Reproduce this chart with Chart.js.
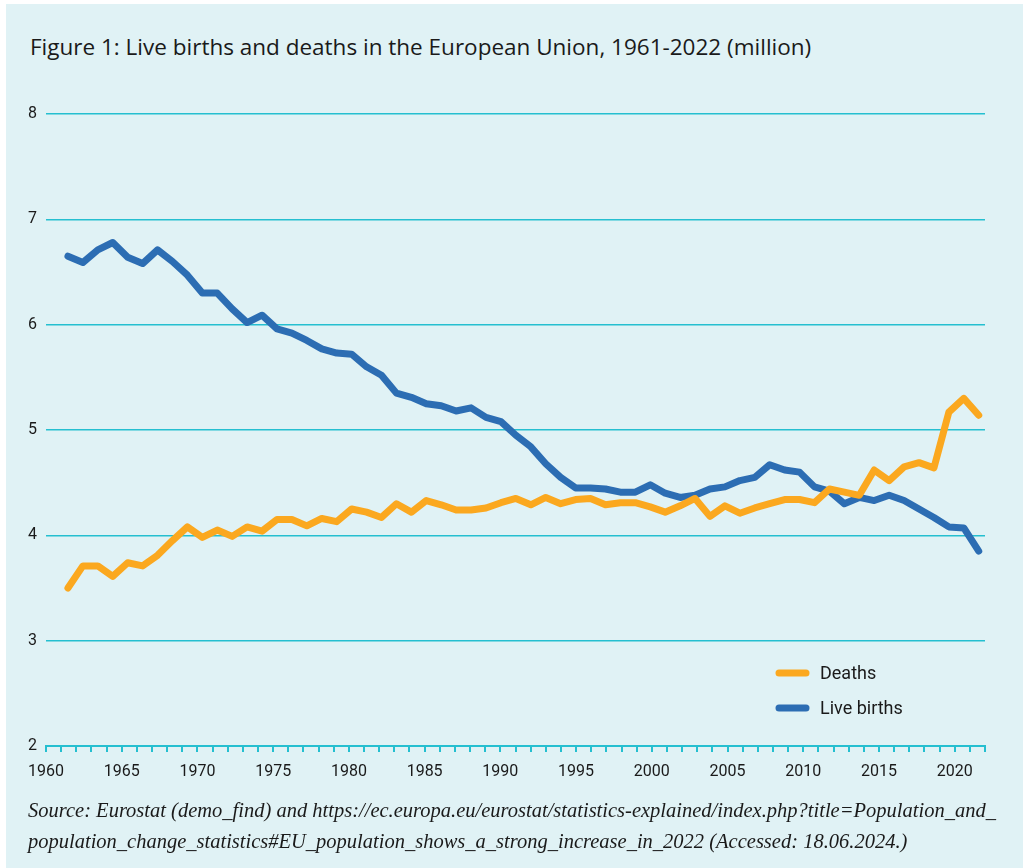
<!DOCTYPE html>
<html>
<head>
<meta charset="utf-8">
<script src="https://cdn.jsdelivr.net/npm/chart.js@4.4.1/dist/chart.umd.min.js"></script>
<style>
  html, body { margin: 0; padding: 0; background: #ffffff; }
  #wrap { position: relative; width: 1023px; height: 868px; overflow: hidden; }
  #bg { position: absolute; left: 6px; top: 4px; right: 0; bottom: 0; background: #e0f2f5; }
  #title { position: absolute; left: 30px; top: 31px; font-family: "Open Sans", sans-serif; font-size: 22.5px; color: #1a1a1a; white-space: nowrap; }
  #source { position: absolute; left: 28px; top: 795px; font-family: "Liberation Serif", serif; font-style: italic; font-size: 20.5px; line-height: 31px; color: #1a1a1a; white-space: nowrap; }
  canvas { position: absolute; left: 0; top: 0; }
</style>
</head>
<body>
<div id="wrap">
  <div id="bg"></div>
  <div id="title">Figure 1: Live births and deaths in the European Union, 1961-2022 (million)</div>
  <canvas id="c" width="1023" height="868"></canvas>
  <div id="source">Source: Eurostat (demo_find) and https://ec.europa.eu/eurostat/statistics-explained/index.php?title=Population_and_<br>population_change_statistics#EU_population_shows_a_strong_increase_in_2022 (Accessed: 18.06.2024.)</div>
</div>
<script>
const years = [1961,1962,1963,1964,1965,1966,1967,1968,1969,1970,1971,1972,1973,1974,1975,1976,1977,1978,1979,1980,1981,1982,1983,1984,1985,1986,1987,1988,1989,1990,1991,1992,1993,1994,1995,1996,1997,1998,1999,2000,2001,2002,2003,2004,2005,2006,2007,2008,2009,2010,2011,2012,2013,2014,2015,2016,2017,2018,2019,2020,2021,2022];

const deaths = [3.50,3.71,3.71,3.61,3.74,3.71,3.81,3.95,4.08,3.98,4.05,3.99,4.08,4.04,4.15,4.15,4.09,4.16,4.13,4.25,4.22,4.17,4.30,4.22,4.33,4.29,4.24,4.24,4.26,4.31,4.35,4.29,4.36,4.30,4.34,4.35,4.29,4.31,4.31,4.27,4.22,4.28,4.35,4.18,4.28,4.21,4.26,4.30,4.34,4.34,4.31,4.44,4.41,4.38,4.62,4.52,4.65,4.69,4.64,5.17,5.30,5.14];

const liveBirths = [6.65,6.59,6.71,6.78,6.64,6.58,6.71,6.60,6.47,6.30,6.30,6.15,6.02,6.09,5.96,5.92,5.85,5.77,5.73,5.72,5.60,5.52,5.35,5.31,5.25,5.23,5.18,5.21,5.12,5.08,4.95,4.84,4.68,4.55,4.45,4.45,4.44,4.41,4.41,4.48,4.40,4.36,4.38,4.44,4.46,4.52,4.55,4.67,4.62,4.60,4.46,4.42,4.30,4.36,4.33,4.38,4.33,4.25,4.17,4.08,4.07,3.85];

const yTicks = [2,3,4,5,6,7,8];
const xLabelYears = [1960,1965,1970,1975,1980,1985,1990,1995,2000,2005,2010,2015,2020];

const seriesNames = ['Deaths', 'Live births'];
const colors = ['#fba81f', '#2c6db3'];
const gridColor = '#25bfd0';

const toPoints = (vals) => years.map((y, i) => ({ x: y, y: vals[i] }));

const legendPlugin = {
  id: 'innerLegend',
  afterDatasetsDraw(chart) {
    const ctx = chart.ctx;
    ctx.save();
    chart.data.datasets.forEach((ds, i) => {
      const y = 673 + i * 35;
      ctx.strokeStyle = ds.borderColor;
      ctx.lineWidth = 7;
      ctx.lineCap = 'round';
      ctx.beginPath();
      ctx.moveTo(779, y);
      ctx.lineTo(806, y);
      ctx.stroke();
      ctx.fillStyle = '#1a1a1a';
      ctx.font = '18px Roboto, sans-serif';
      ctx.textBaseline = 'middle';
      ctx.textAlign = 'left';
      ctx.fillText(ds.label, 820, y + 1);
    });
    ctx.restore();
  }
};

new Chart(document.getElementById('c'), {
  type: 'line',
  data: {
    datasets: [
      { label: seriesNames[0], data: toPoints(deaths), borderColor: colors[0], backgroundColor: colors[0], borderWidth: 7, pointRadius: 0, tension: 0, borderCapStyle: 'round', borderJoinStyle: 'round', xAxisID: 'xd' },
      { label: seriesNames[1], data: toPoints(liveBirths), borderColor: colors[1], backgroundColor: colors[1], borderWidth: 7, pointRadius: 0, tension: 0, borderCapStyle: 'round', borderJoinStyle: 'round', xAxisID: 'xd' }
    ]
  },
  options: {
    responsive: false,
    animation: false,
    layout: { padding: { left: 0, right: 38, top: 114, bottom: 82 } },
    plugins: { legend: { display: false }, tooltip: { enabled: false }, title: { display: false } },
    scales: {
      xd: {
        type: 'linear', display: false, min: 1959.53, max: 2022.42
      },
      x: {
        type: 'linear', position: 'bottom', min: 1960, max: 2022,
        afterFit: (s) => { s.height = 40; },
        afterBuildTicks: (s) => { s.ticks = [1960].concat(years).map(v => ({ value: v })); },
        ticks: {
          autoSkip: false, maxRotation: 0, minRotation: 0, padding: 10,
          color: '#1a1a1a', font: { family: 'Roboto, sans-serif', size: 16 },
          callback: (v) => xLabelYears.includes(v) ? String(v) : ''
        },
        grid: { drawOnChartArea: false, drawTicks: true, tickLength: 6, color: gridColor, lineWidth: 2 },
        border: { display: true, color: gridColor, width: 2 }
      },
      y: {
        type: 'linear', min: 2, max: 8,
        afterFit: (s) => { s.width = 46; },
        afterBuildTicks: (s) => { s.ticks = yTicks.map(v => ({ value: v })); },
        ticks: { padding: 9, color: '#1a1a1a', font: { family: 'Roboto, sans-serif', size: 16 } },
        grid: { drawTicks: false, color: gridColor, lineWidth: 1.5 },
        border: { display: false }
      }
    }
  },
  plugins: [legendPlugin]
});
</script>
</body>
</html>
